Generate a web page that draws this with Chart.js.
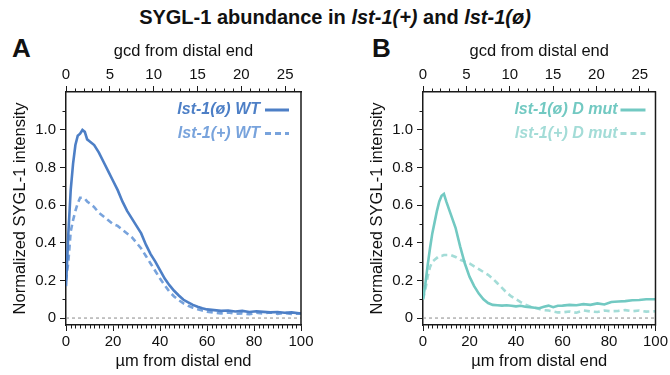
<!DOCTYPE html>
<html>
<head>
<meta charset="utf-8">
<script src="https://cdn.jsdelivr.net/npm/chart.js@4.4.1/dist/chart.umd.min.js"></script>
<style>
  html, body { margin:0; padding:0; background:#fff; }
  body { width:670px; height:375px; position:relative; overflow:hidden; font-family:'Liberation Sans', Arial, sans-serif; }
  #title { position:absolute; left:0; width:670px; top:6px; text-align:center; font-weight:bold; font-size:20px; color:#111; }
  .plab { position:absolute; top:33px; font-weight:bold; font-size:26px; color:#111; }
  canvas { position:absolute; top:30px; }
</style>
</head>
<body>
<div id="title">SYGL-1 abundance in <i>lst-1(+)</i> and <i>lst-1(ø)</i></div>
<div class="plab" style="left:12px">A</div>
<div class="plab" style="left:372px">B</div>
<canvas id="cA" width="335" height="345" style="left:0px"></canvas>
<canvas id="cB" width="313" height="345" style="left:357px"></canvas>
<script>
// ---------- data (µm from distal end) ----------
const xPos = [0,1,2,3,4,5,6,7,8,9,10,12,14,16,18,20,22,24,26,28,30,32,34,36,38,40,42,44,46,48,50,52,54,56,58,60,63,66,69,72,75,78,81,84,87,90,93,96,100];

const wtNull = [0.17,0.45,0.68,0.82,0.92,0.97,0.98,1.0,0.99,0.95,0.94,0.92,0.88,0.83,0.78,0.73,0.68,0.62,0.57,0.53,0.49,0.45,0.39,0.34,0.30,0.255,0.21,0.175,0.145,0.12,0.097,0.083,0.07,0.06,0.052,0.046,0.042,0.038,0.04,0.035,0.038,0.032,0.036,0.033,0.03,0.032,0.028,0.03,0.024];
const wtPlus = [0.2,0.3,0.46,0.52,0.57,0.61,0.64,0.64,0.635,0.62,0.61,0.59,0.56,0.54,0.52,0.50,0.49,0.47,0.45,0.43,0.40,0.37,0.33,0.29,0.25,0.21,0.175,0.14,0.115,0.095,0.078,0.065,0.055,0.047,0.04,0.034,0.028,0.025,0.03,0.022,0.025,0.02,0.028,0.024,0.03,0.022,0.027,0.022,0.025];
const dmutNull = [0.10,0.18,0.28,0.37,0.45,0.51,0.57,0.62,0.65,0.66,0.62,0.55,0.48,0.38,0.29,0.22,0.17,0.13,0.10,0.08,0.07,0.068,0.066,0.068,0.065,0.062,0.065,0.06,0.058,0.055,0.052,0.06,0.066,0.058,0.065,0.066,0.07,0.068,0.074,0.07,0.078,0.072,0.085,0.088,0.09,0.095,0.096,0.1,0.1];
const dmutPlus = [0.10,0.15,0.22,0.27,0.30,0.31,0.32,0.33,0.33,0.335,0.335,0.335,0.325,0.31,0.30,0.29,0.275,0.26,0.245,0.23,0.21,0.185,0.16,0.135,0.115,0.10,0.085,0.072,0.062,0.055,0.048,0.042,0.04,0.035,0.03,0.03,0.035,0.028,0.04,0.035,0.032,0.04,0.036,0.038,0.042,0.036,0.04,0.034,0.036];

const namesA = ['lst-1(ø) WT', 'lst-1(+) WT'];
const namesB = ['lst-1(ø) D mut', 'lst-1(+) D mut'];

const yTicks = [0, 0.2, 0.4, 0.6, 0.8, 1.0];
const yTickLabels = ['0', '0.2', '0.4', '0.6', '0.8', '1.0'];
const xTicks = [0, 20, 40, 60, 80, 100];
const gcdTicks = [0, 5, 10, 15, 20, 25];
const umPerGcd = 3.73;

// ---------- helpers ----------
const FONT = "'Liberation Sans', Arial, sans-serif";
const AX = '#1a1a1a';
const pts = arr => xPos.map((x, i) => ({x, y: arr[i]}));

const decor = {
  id: 'decor',
  beforeDatasetsDraw(chart) {
    const {ctx, chartArea: a, scales} = chart;
    const y0 = scales.y.getPixelForValue(0);
    ctx.save();
    ctx.strokeStyle = '#8a8a8a'; ctx.lineWidth = 1; ctx.setLineDash([3, 3]);
    ctx.beginPath(); ctx.moveTo(a.left, y0); ctx.lineTo(a.right, y0); ctx.stroke();
    ctx.restore();
  },
  afterDraw(chart) {
    const {ctx, chartArea: a, scales} = chart;
    const o = chart.options.plugins.decor;
    ctx.save();
    ctx.strokeStyle = AX; ctx.lineWidth = 1.5;
    ctx.beginPath(); ctx.moveTo(a.right, a.top - 0.75); ctx.lineTo(a.right, a.bottom + 0.75); ctx.stroke();
    ctx.lineWidth = 1;
    ctx.beginPath();
    for (let v = 2; v < 100; v += 2) {
      if (v % 20 === 0) continue;
      const x = Math.round(scales.x.getPixelForValue(v)) + 0.5;
      ctx.moveTo(x, a.bottom); ctx.lineTo(x, a.bottom + 3.5);
    }
    for (let g = 1; g < 27; g++) {
      if (g % 5 === 0) continue;
      const x = Math.round(scales.x2.getPixelForValue(g)) + 0.5;
      ctx.moveTo(x, a.top); ctx.lineTo(x, a.top - 3.5);
    }
    for (let t = 0.1; t < 1.15; t += 0.2) {
      const y = Math.round(scales.y.getPixelForValue(t)) + 0.5;
      ctx.moveTo(a.left, y); ctx.lineTo(a.left - 3.5, y);
    }
    ctx.stroke();
    // legend
    ctx.font = "italic bold 16px " + FONT;
    ctx.textAlign = 'right'; ctx.textBaseline = 'middle';
    o.names.forEach((n, i) => {
      const yy = a.top + 18 + i * 23.5;
      ctx.fillStyle = o.colors[i];
      ctx.fillText(n, a.right - o.textGap, yy);
      ctx.strokeStyle = o.colors[i]; ctx.lineWidth = 3;
      ctx.setLineDash(i === 1 ? [6, 4] : []);
      ctx.beginPath(); ctx.moveTo(a.right - o.lineStart, yy); ctx.lineTo(a.right - o.lineEnd, yy); ctx.stroke();
    });
    ctx.restore();
  }
};

function makeChart(id, s1, s2, colors, names, rightPad, legendGeom) {
  const tickFont = {family: FONT, size: 15};
  const titleFont = {family: FONT, size: 16.5, lineHeight: 1.2};
  return new Chart(document.getElementById(id), {
    type: 'line',
    data: {
      datasets: [
        {data: pts(s1), borderColor: colors[0], borderWidth: 2.6, pointRadius: 0, tension: 0, xAxisID: 'x', yAxisID: 'y'},
        {data: pts(s2), borderColor: colors[1], borderWidth: 2.6, borderDash: [6, 4], pointRadius: 0, tension: 0, xAxisID: 'x', yAxisID: 'y'}
      ]
    },
    options: {
      responsive: false, animation: false, devicePixelRatio: 1,
      layout: {padding: {left: 0, right: rightPad, top: 0, bottom: 0}},
      plugins: {
        legend: {display: false}, tooltip: {enabled: false},
        decor: Object.assign({names, colors}, legendGeom)
      },
      scales: {
        x: {
          type: 'linear', position: 'bottom', min: 0, max: 100,
          afterBuildTicks: s => { s.ticks = xTicks.map(v => ({value: v})); },
          afterFit: s => { s.height = 50; },
          ticks: {font: tickFont, color: '#111', padding: 2, autoSkip: false, maxRotation: 0},
          grid: {drawOnChartArea: false, tickLength: 6, tickColor: AX, tickWidth: 1},
          border: {color: AX, width: 1.5},
          title: {display: true, text: 'µm from distal end', font: titleFont, color: '#111', padding: {top: 0, bottom: 4}}
        },
        x2: {
          type: 'linear', position: 'top', min: 0, max: 100 / umPerGcd,
          afterBuildTicks: s => { s.ticks = gcdTicks.map(v => ({value: v})); },
          afterFit: s => { s.height = 62; },
          ticks: {font: tickFont, color: '#111', padding: 2, autoSkip: false, maxRotation: 0},
          grid: {drawOnChartArea: false, tickLength: 6, tickColor: AX, tickWidth: 1},
          border: {color: AX, width: 1.5},
          title: {display: true, text: 'gcd from distal end', font: titleFont, color: '#111', padding: {top: 12, bottom: 0}}
        },
        y: {
          type: 'linear', position: 'left', min: -0.037, max: 1.202,
          afterBuildTicks: s => { s.ticks = yTicks.map(v => ({value: v})); },
          afterFit: s => { s.width = 66; },
          ticks: {font: tickFont, color: '#111', padding: 4, autoSkip: false,
                  callback: (v) => yTickLabels[yTicks.indexOf(v)] ?? ''},
          grid: {drawOnChartArea: false, tickLength: 6, tickColor: AX, tickWidth: 1},
          border: {color: AX, width: 1.5},
          title: {display: true, text: 'Normalized SYGL-1 intensity', font: titleFont, color: '#111', padding: {top: 11, bottom: 0}}
        }
      }
    },
    plugins: [decor]
  });
}

makeChart('cA', wtNull, wtPlus, ['#4d7fc6', '#78a3dc'], namesA, 34, {textGap: 41, lineStart: 36, lineEnd: 12});
makeChart('cB', dmutNull, dmutPlus, ['#72c9c2', '#a3dcd7'], namesB, 12, {textGap: 38, lineStart: 35, lineEnd: 10});
</script>
</body>
</html>
